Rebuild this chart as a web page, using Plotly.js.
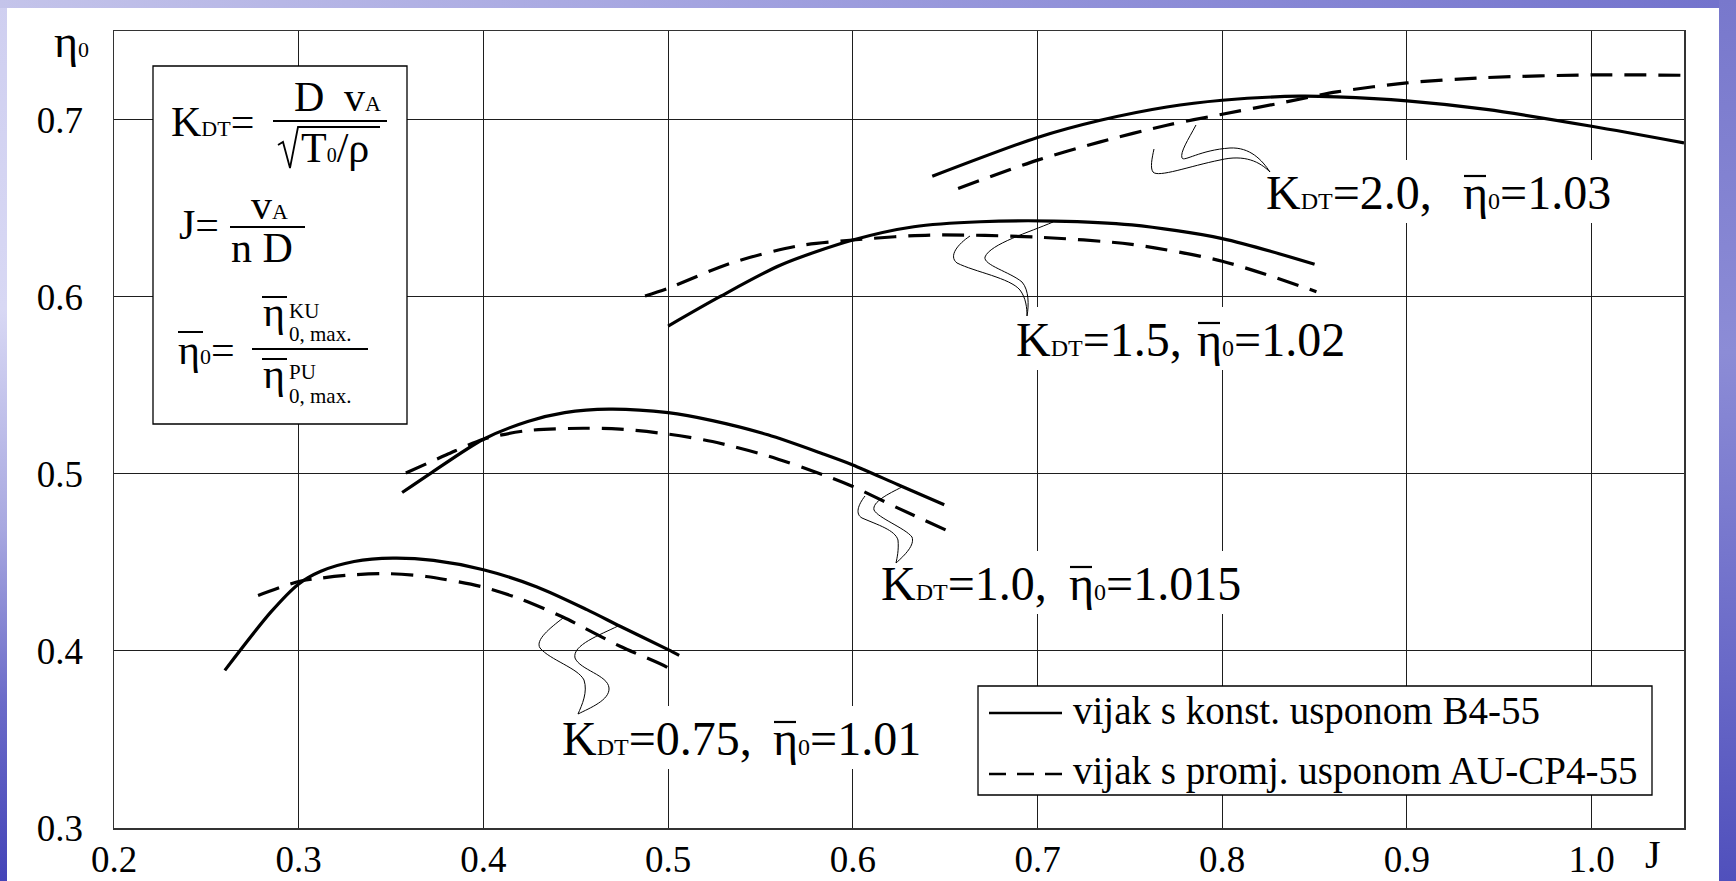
<!DOCTYPE html>
<html>
<head>
<meta charset="utf-8">
<script src="https://cdn.plot.ly/plotly-3.0.1.min.js"></script>
<style>
  html, body { margin:0; padding:0; }
  body { width:1736px; height:881px; overflow:hidden; position:relative;
         background: linear-gradient(to bottom, #cfcff0 0%, #d8d8f4 35%, #a8a8e0 60%, #6a6ac8 80%, #4444b8 100%); }
  #top { position:absolute; left:0; top:0; width:1736px; height:8px;
         background: linear-gradient(to right, #c4c4ea 0%, #a4a4e0 40%, #8a8ad6 70%, #7272cc 100%); }
  #right { position:absolute; left:1719px; top:0; width:17px; height:881px;
         background: linear-gradient(to bottom, #7878cc 0%, #8c8cd6 40%, #6a6ac8 75%, #5050bc 100%); }
  #white { position:absolute; left:7px; top:8px; width:1712px; height:873px; background:#ffffff; }
  #plot { position:absolute; left:0; top:0; width:1736px; height:881px; }
</style>
</head>
<body>
<div id="top"></div>
<div id="right"></div>
<div id="white"></div>
<div id="plot"></div>
<script>
// ---------------- data ----------------
// K_DT = 0.75
const J_K075_B4   = [0.260, 0.285, 0.300, 0.312, 0.330, 0.351, 0.373, 0.400, 0.429, 0.456, 0.474, 0.500, 0.506];
const ETA_K075_B4 = [0.389, 0.422, 0.4378, 0.445, 0.4505, 0.4524, 0.4511, 0.4458, 0.4361, 0.4233, 0.4139, 0.4007, 0.3975];
const J_K075_AU   = [0.278, 0.300, 0.312, 0.330, 0.348, 0.369, 0.400, 0.420, 0.443, 0.474, 0.500, 0.503];
const ETA_K075_AU = [0.4313, 0.4392, 0.4411, 0.4430, 0.4436, 0.4420, 0.4360, 0.4293, 0.4191, 0.4026, 0.3904, 0.3876];
// K_DT = 1.0
const J_K10_B4    = [0.356, 0.372, 0.400, 0.424, 0.444, 0.468, 0.500, 0.524, 0.554, 0.584, 0.600, 0.6245, 0.6495];
const ETA_K10_B4  = [0.4894, 0.5007, 0.5195, 0.5295, 0.5345, 0.5365, 0.5345, 0.5300, 0.5220, 0.5112, 0.5050, 0.4938, 0.4825];
const J_K10_AU    = [0.358, 0.380, 0.400, 0.424, 0.454, 0.474, 0.500, 0.524, 0.554, 0.584, 0.600, 0.6245, 0.656];
const ETA_K10_AU  = [0.5004, 0.5107, 0.5195, 0.5244, 0.5257, 0.5252, 0.5224, 0.5182, 0.5101, 0.4994, 0.4928, 0.4806, 0.4656];
// K_DT = 1.5
const J_K15_B4    = [0.500, 0.528, 0.561, 0.600, 0.633, 0.669, 0.709, 0.751, 0.800, 0.850];
const ETA_K15_B4  = [0.5834, 0.6000, 0.6179, 0.6320, 0.6395, 0.6423, 0.6427, 0.6405, 0.6328, 0.6183];
const J_K15_AU    = [0.4875, 0.500, 0.5335, 0.570, 0.600, 0.642, 0.700, 0.751, 0.800, 0.851];
const ETA_K15_AU  = [0.6004, 0.6047, 0.6188, 0.6286, 0.6320, 0.6348, 0.6336, 0.6295, 0.6200, 0.6028];
// K_DT = 2.0
const J_K20_B4    = [0.643, 0.700, 0.734, 0.770, 0.800, 0.842, 0.862, 0.900, 0.943, 1.000, 1.050];
const ETA_K20_B4  = [0.668, 0.6899, 0.6996, 0.7071, 0.7109, 0.7132, 0.7128, 0.7105, 0.7057, 0.6962, 0.6868];
const J_K20_AU    = [0.657, 0.700, 0.734, 0.770, 0.800, 0.832, 0.862, 0.900, 0.943, 1.000, 1.050];
const ETA_K20_AU  = [0.6611, 0.6771, 0.6874, 0.6968, 0.7030, 0.7094, 0.7156, 0.7207, 0.7237, 0.7252, 0.7250];

const X_TICKS = [0.2, 0.3, 0.4, 0.5, 0.6, 0.7, 0.8, 0.9, 1.0];
const X_TICK_TEXT = ['0.2', '0.3', '0.4', '0.5', '0.6', '0.7', '0.8', '0.9', '1.0'];
const Y_TICKS = [0.3, 0.4, 0.5, 0.6, 0.7];
const Y_TICK_TEXT = ['0.3', '0.4', '0.5', '0.6', '0.7'];

const SERIES_NAMES = ['vijak s konst. usponom B4-55', 'vijak s promj. usponom AU-CP4-55'];
const LABELS = [
  {k: '0.75', e: '1.01'},
  {k: '1.0',  e: '1.015'},
  {k: '1.5',  e: '1.02'},
  {k: '2.0',  e: '1.03'}
];

// ---------------- layout helpers ----------------
const ML = 114, MR = 52, MT = 31, MB = 53;
const PW = 1736 - ML - MR, PH = 881 - MT - MB;
const pX = px => (px - ML) / PW;
const pY = py => (MT + PH - py) / PH;
const FONT = 'Liberation Serif, Times New Roman, serif';

function txt(text, px, base, size, extra) {
  return Object.assign({
    xref: 'paper', yref: 'paper', x: pX(px), y: pY(base + 0.216 * size),
    xanchor: 'left', yanchor: 'bottom', showarrow: false, borderpad: 0,
    text: text, font: {family: FONT, size: size, color: '#000'}
  }, extra || {});
}
function hline(x0, x1, y, w, dash) {
  return {type: 'line', xref: 'paper', yref: 'paper', x0: pX(x0), x1: pX(x1), y0: pY(y), y1: pY(y),
          layer: 'above', line: {color: '#000', width: w, dash: dash || 'solid'}};
}
function rect(x0, y0, x1, y1, lw) {
  return {type: 'rect', xref: 'paper', yref: 'paper', x0: pX(x0), x1: pX(x1), y0: pY(y1), y1: pY(y0),
          layer: 'above', fillcolor: '#ffffff', line: {color: lw ? '#000' : 'rgba(0,0,0,0)', width: lw || 0}};
}
function pathPx(d, w) {
  const conv = d.replace(/(-?\d+\.?\d*),(-?\d+\.?\d*)/g, (m, a, b) => pX(+a).toFixed(5) + ',' + pY(+b).toFixed(5));
  return {type: 'path', xref: 'paper', yref: 'paper', path: conv, layer: 'above',
          line: {color: '#000', width: w}};
}

// ---------------- traces ----------------
function curve(x, y, dashed, name) {
  return {x: x, y: y, type: 'scatter', mode: 'lines', name: name, showlegend: false,
          line: {color: '#000', width: 3.2, shape: 'spline', smoothing: 0.8, dash: dashed ? '22px,12px' : 'solid'},
          hoverinfo: 'x+y'};
}
const traces = [
  curve(J_K075_B4, ETA_K075_B4, false, SERIES_NAMES[0]),
  curve(J_K075_AU, ETA_K075_AU, true, SERIES_NAMES[1]),
  curve(J_K10_B4, ETA_K10_B4, false, SERIES_NAMES[0]),
  curve(J_K10_AU, ETA_K10_AU, true, SERIES_NAMES[1]),
  curve(J_K15_B4, ETA_K15_B4, false, SERIES_NAMES[0]),
  curve(J_K15_AU, ETA_K15_AU, true, SERIES_NAMES[1]),
  curve(J_K20_B4, ETA_K20_B4, false, SERIES_NAMES[0]),
  curve(J_K20_AU, ETA_K20_AU, true, SERIES_NAMES[1])
];

// ---------------- decorations ----------------
const shapes = [];
const annotations = [];
const SUB = s => "<span style='font-size:22px'>" + s + "</span>";
const SUBL = s => "<span style='font-size:24px'>" + s + "</span>";

// formula box
shapes.push(rect(153, 66, 407, 424, 1.3));
shapes.push(hline(273, 387, 121, 2));
shapes.push(hline(230, 305, 227, 2));
shapes.push(hline(252, 368, 349, 2));
shapes.push(pathPx('M278,145 L283,142 L290,168 L298,127 L380,127', 1.8));
shapes.push(hline(178, 203, 332, 2));
shapes.push(hline(262, 287, 297, 2));
shapes.push(hline(262, 287, 359, 2));

annotations.push(txt('K' + SUB('DT') + '=', 170, 137, 42));
annotations.push(txt('D', 293, 112, 42));
annotations.push(txt('v' + SUB('A'), 343, 112, 42));
annotations.push(txt('T' + "<span style='font-size:20px'>0</span>" + '/ρ', 300, 163, 42));
annotations.push(txt('J=', 178, 240, 42));
annotations.push(txt('v' + SUB('A'), 250, 220, 42));
annotations.push(txt('n D', 230, 263, 42));
annotations.push(txt('η' + SUB('0') + '=', 177, 365, 42));
annotations.push(txt('η', 262, 327, 42));
annotations.push(txt('KU', 288, 319, 21));
annotations.push(txt('0, max.', 288, 342, 21));
annotations.push(txt('η', 262, 389, 42));
annotations.push(txt('PU', 288, 380, 21));
annotations.push(txt('0, max.', 288, 404, 21));

// curve labels (K at kx, eta at ex, baseline b, right end r)
const labelPos = [
  {kx: 561, ex: 772, b: 756, r: 930},
  {kx: 880, ex: 1068, b: 601, r: 1250},
  {kx: 1015, ex: 1196, b: 357, r: 1366},
  {kx: 1265, ex: 1462, b: 210, r: 1614}
];
labelPos.forEach((p, i) => {
  shapes.push(rect(p.kx - 4, p.b - 50, p.r + 4, p.b + 13, 0));
});
labelPos.forEach((p, i) => {
  shapes.push(hline(p.ex + 2, p.ex + 24, p.b - 34, 2.2));
  annotations.push(txt('K' + SUBL('DT') + '=' + LABELS[i].k + ',', p.kx, p.b, 48));
  annotations.push(txt('η' + SUBL('0') + '=' + LABELS[i].e, p.ex, p.b, 48));
});

// leader lines
[
  'M563,618 C550,628 535,640 540,648 C550,660 578,668 584,680 C588,692 582,705 578,714',
  'M618,626 C600,635 572,645 575,658 C580,670 608,675 609,688 C610,700 590,708 578,714',
  'M865,496 C858,505 855,514 862,518 C878,525 895,530 898,540 C899,550 897,558 896,563',
  'M902,487 C888,494 872,502 874,510 C878,518 905,528 912,537 C915,545 905,555 896,563',
  'M970,236 C958,244 948,256 957,263 C975,272 1010,278 1020,290 C1026,298 1027,308 1027,316',
  'M1053,222 C1030,232 990,244 985,257 C983,265 1010,272 1022,282 C1029,290 1029,305 1027,316',
  'M1196,125 C1188,140 1180,152 1182,158 C1184,162 1200,150 1230,148 C1250,147 1262,160 1270,172',
  'M1154,149 C1152,158 1150,168 1153,172 C1158,178 1190,166 1220,160 C1245,154 1260,162 1270,172'
].forEach(d => shapes.push(pathPx(d, 1)));

// legend
shapes.push(rect(978, 686, 1652, 795, 1.3));
shapes.push(hline(989, 1062, 713, 2.5));
shapes.push(hline(989, 1062, 774, 2.5, '17px,11px'));
annotations.push(txt(SERIES_NAMES[0], 1072, 726, 39));
annotations.push(txt(SERIES_NAMES[1], 1072, 786, 39));

// axis titles
annotations.push(txt('η' + SUB('0'), 53, 58, 46));
annotations.push(txt('J', 1644, 869, 40));

const axisCommon = {
  showgrid: true, gridcolor: '#1e1e1e', gridwidth: 1, zeroline: false,
  showline: true, mirror: true, linecolor: '#333', linewidth: 1.5,
  ticks: '', tickmode: 'array',
  tickfont: {family: FONT, size: 37, color: '#000'}
};

const layout = {
  width: 1736, height: 881,
  margin: {l: ML, r: MR, t: MT, b: MB},
  paper_bgcolor: 'rgba(0,0,0,0)', plot_bgcolor: '#ffffff',
  showlegend: false,
  xaxis: Object.assign({}, axisCommon, {range: [0.2, 1.05], tickvals: X_TICKS, ticktext: X_TICK_TEXT, ticklabelstandoff: -2}),
  yaxis: Object.assign({}, axisCommon, {range: [0.3, 0.75], tickvals: Y_TICKS, ticktext: Y_TICK_TEXT, ticklabelstandoff: 22}),
  shapes: shapes,
  annotations: annotations
};

Plotly.newPlot('plot', traces, layout, {displayModeBar: false, staticPlot: true});
</script>
</body>
</html>
